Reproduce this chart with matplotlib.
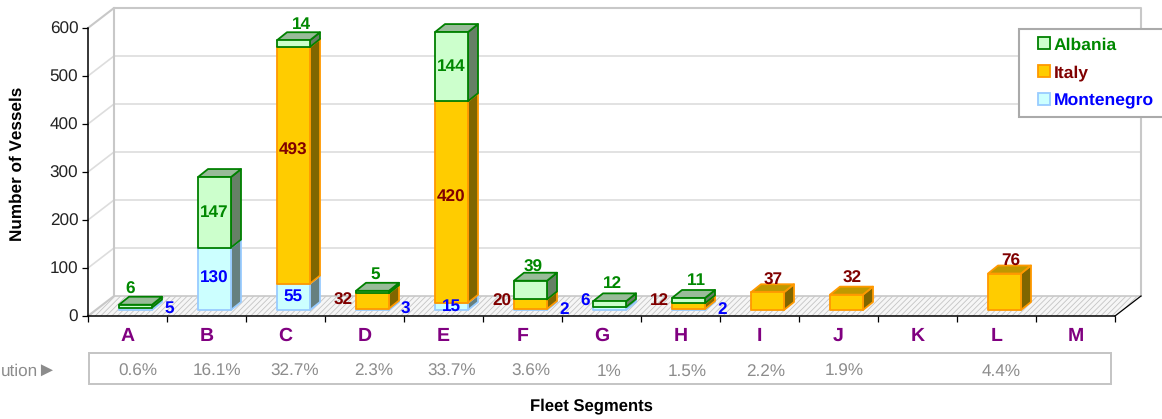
import matplotlib
matplotlib.use('Agg')
import matplotlib.pyplot as plt
from matplotlib.patches import Polygon, Rectangle

plt.rcParams['font.family'] = ['Liberation Sans', 'DejaVu Sans']
plt.rcParams['hatch.linewidth'] = 0.6
plt.rcParams['text.hinting'] = 'no_hinting'
plt.rcParams['text.hinting_factor'] = 8
plt.rcParams['text.kerning_factor'] = 6

categories = ['A', 'B', 'C', 'D', 'E', 'F', 'G', 'H', 'I', 'J', 'K', 'L', 'M']
montenegro = [5, 130, 55, 3, 15, 2, 6, 2, 0, 0, 0, 0, 0]
italy = [0, 0, 493, 32, 420, 20, 0, 12, 37, 32, 0, 76, 0]
albania = [6, 147, 14, 5, 144, 39, 12, 11, 0, 0, 0, 0, 0]
contribution = ['0.6%', '16.1%', '32.7%', '2.3%', '33.7%', '3.6%', '1%', '1.5%', '2.2%', '1.9%', '', '4.4%', '']
y_ticks = [0, 100, 200, 300, 400, 500, 600]

W, H = 1162, 419
# front plane of the fake 3d box, in pixels
X0, X1, Y0, Y600 = 88, 1115, 316, 28
WALL_DX, WALL_DY = 26, 20
BAR_DX, BAR_DY = 8, 6
SIDE_DX, SIDE_DY = 10, 8
BAR_PX = 33

# fill, edge, side, top, label colour
styles = {
    'Albania': ('#ccffcc', '#008000', '#668066', '#99bb99', '#008800'),
    'Italy': ('#ffcc00', '#ff9900', '#806600', '#bf9900', '#800000'),
    'Montenegro': ('#ccffff', '#99ccff', '#668080', '#99bfbf', '#0000ff'),
}
# labels that do not follow the default placement
label_place = {(6, 'Montenegro'): 'left', (4, 'Montenegro'): 'inside', (11, 'Italy'): 'top'}
# pixel nudges (right, up) for single labels
label_nudge = {
    (0, 'Albania'): (-8, -3),
    (2, 'Albania'): (5, -2),
    (2, 'Italy'): (0, 15),
    (3, 'Albania'): (0, -2),
    (4, 'Italy'): (0, 5),
    (5, 'Albania'): (0, -5),
    (7, 'Albania'): (5, -1),
    (8, 'Italy'): (3, -6),
    (9, 'Italy'): (3, -2),
    (11, 'Italy'): (3, -6),
}


def make_px_axes(zorder):
    a = fig.add_axes([0, 0, 1, 1], zorder=zorder)
    a.set_xlim(0, W)
    a.set_ylim(H, 0)
    a.axis('off')
    a.patch.set_alpha(0)
    return a


fig = plt.figure(figsize=(W / 100, H / 100), dpi=100)
back = make_px_axes(0)
ax = fig.add_axes([X0 / W, 1 - Y0 / H, (X1 - X0) / W, (Y0 - Y600) / H], zorder=1)
front = make_px_axes(2)
ax.patch.set_alpha(0)

x_per_px = len(categories) / (X1 - X0)
y_per_px = 600 / (Y0 - Y600)

# floor and walls
floor = [(X0, Y0), (X0 + WALL_DX, Y0 - WALL_DY), (X1 + WALL_DX, Y0 - WALL_DY), (X1, Y0)]
back.add_patch(Polygon(floor, facecolor='#f6f6f6', edgecolor='#c4c4c4', hatch='//////', lw=0))
wall_top = Y600 - WALL_DY
for t in y_ticks[1:-1]:
    py = Y0 - t / y_per_px
    back.plot([X0, X0 + WALL_DX, X1 + WALL_DX], [py, py - WALL_DY, py - WALL_DY], color='#dddddd', lw=1.2)
back.plot([X0, X0 + WALL_DX, X0 + WALL_DX], [Y0, Y0 - WALL_DY, wall_top], color='#c8c8c8', lw=1.5)
back.plot([X0 + WALL_DX, X1 + WALL_DX], [Y0 - WALL_DY, Y0 - WALL_DY], color='#c8c8c8', lw=1.2)
back.plot([X0, X0 + WALL_DX, X1 + WALL_DX, X1 + WALL_DX], [Y600, wall_top, wall_top, Y0 - WALL_DY],
          color='#c8c8c8', lw=1.5)
back.plot([X1, X1 + WALL_DX], [Y0, Y0 - WALL_DY], color='black', lw=0.9)

# main axes
ax.set_xlim(0, len(categories))
ax.set_ylim(0, 600)
ax.spines['top'].set_visible(False)
ax.spines['right'].set_visible(False)
ax.spines['left'].set_linewidth(1.1)
ax.spines['bottom'].set_linewidth(1.1)
ax.set_yticks(y_ticks)
ax.tick_params(axis='y', length=4, width=0.9, pad=3, labelsize=12.3, labelcolor='#222222')
ax.set_xticks(range(len(categories) + 1))
ax.set_xticklabels([])
ax.tick_params(axis='x', which='major', length=4, width=0.9)
ax.set_xticks([i + 0.5 for i in range(len(categories))], minor=True)
ax.set_xticklabels(categories, minor=True, fontsize=14, fontweight='bold', color='#800080')
ax.tick_params(axis='x', which='minor', length=0, pad=8)

bar_w = BAR_PX * x_per_px
off_x = BAR_DX * x_per_px
off_y = BAR_DY * y_per_px
side_x = SIDE_DX * x_per_px
side_y = SIDE_DY * y_per_px


def draw_segment(left, bottom, height, name):
    fill, edge, side, top, _ = styles[name]
    y0 = off_y + bottom
    y1 = y0 + height
    right = left + bar_w
    kw = dict(edgecolor=edge, lw=1.3, joinstyle='round', clip_on=False)
    ax.add_patch(Polygon([(right, y0), (right + side_x, y0 + side_y), (right + side_x, y1 + side_y), (right, y1)],
                         facecolor=side, **kw))
    ax.add_patch(Polygon([(left, y1), (left + side_x, y1 + side_y), (right + side_x, y1 + side_y), (right, y1)],
                         facecolor=top, **kw))
    ax.add_patch(Rectangle((left, y0), bar_w, height, facecolor=fill, **kw))


def draw_label(i, left, bottom, value, name, is_top):
    colour = styles[name][4]
    mid = off_y + bottom + value / 2
    cx = left + bar_w / 2
    place = label_place.get((i, name))
    if place is None:
        if value / y_per_px > 20:
            place = 'inside'
        elif is_top:
            place = 'top'
        elif name == 'Italy':
            place = 'left'
        else:
            place = 'right'
    if place == 'inside':
        pos, ha = (cx, mid), 'center'
    elif place == 'top':
        pos, ha = (cx + 3 * x_per_px, off_y + bottom + value + side_y + 10 * y_per_px), 'center'
    elif place == 'left':
        pos, ha = (left - 3 * x_per_px, max(mid, 15 * y_per_px)), 'right'
    else:
        pos, ha = (left + bar_w + side_x + 2 * x_per_px, mid), 'left'
    dx, dy = label_nudge.get((i, name), (0, 0))
    ax.text(pos[0] + dx * x_per_px, pos[1] + dy * y_per_px, str(value), ha=ha, va='center', fontsize=12.3,
            fontweight='bold', color=colour, clip_on=False, zorder=5)


series = [('Montenegro', montenegro), ('Italy', italy), ('Albania', albania)]
for i in range(len(categories)):
    left = i + 0.5 - bar_w / 2 + off_x
    present = [(n, v[i]) for n, v in series if v[i] > 0]
    bottom = 0
    for name, value in present:
        draw_segment(left, bottom, value, name)
        bottom += value
    bottom = 0
    for j, (name, value) in enumerate(present):
        draw_label(i, left, bottom, value, name, j == len(present) - 1)
        bottom += value

# contribution strip
front.add_patch(Rectangle((89, 353), 1022, 31, facecolor='white', edgecolor='#c4c4c4', lw=1.4))
for i, label in enumerate(contribution):
    front.text(138 + 78.5 * i, 375.5, label, ha='center', va='baseline', fontsize=12.3, color='#8c8c8c')
# the row title is cut by the left edge in the original, only this part shows
front.text(0.5, 375.5, 'ution', ha='left', va='baseline', fontsize=12.3, color='#8c8c8c')
front.text(46, 375.5, '►', ha='center', va='baseline', fontsize=14.5, color='#8c8c8c')

front.text(17, 164, 'Number of Vessels', rotation=90, ha='center', va='center', fontsize=12.3, fontweight='bold')
front.text(591, 406, 'Fleet Segments', ha='center', va='center', fontsize=12, fontweight='bold')

# legend box, runs off the right edge like the original
front.add_patch(Rectangle((1019, 29), 150, 88, facecolor='white', edgecolor='#aaaaaa', lw=1.5))
for k, name in enumerate(['Albania', 'Italy', 'Montenegro']):
    fill, edge, _, _, colour = styles[name]
    ly = 43.5 + 28 * k
    front.add_patch(Rectangle((1037.5, ly - 6), 12, 12, facecolor=fill, edgecolor=edge, lw=1.3))
    front.text(1054, ly + 6, name, ha='left', va='baseline', fontsize=12.6, fontweight='bold', color=colour)

fig.savefig('out.png', dpi=100)
